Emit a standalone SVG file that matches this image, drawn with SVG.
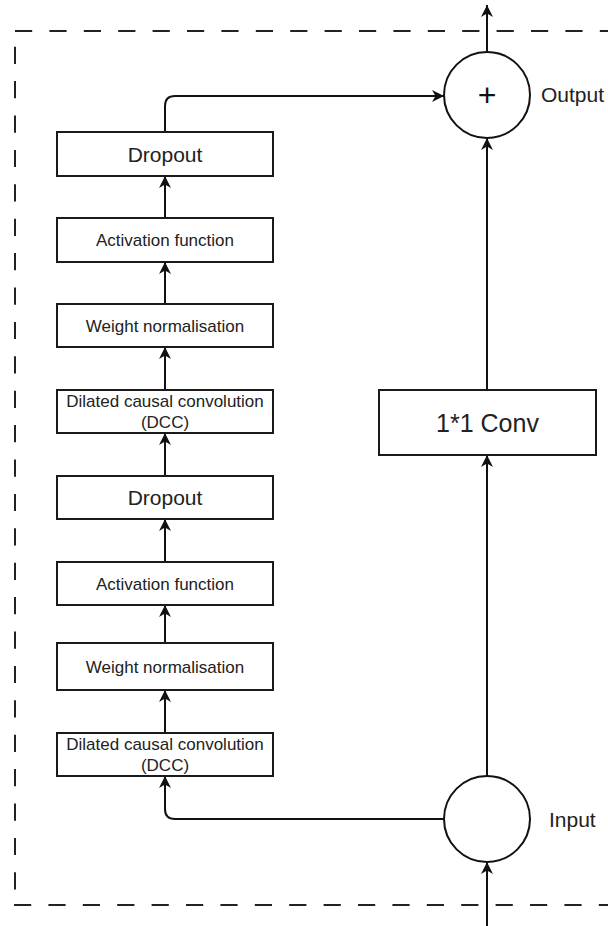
<svg xmlns="http://www.w3.org/2000/svg" width="608" height="926" viewBox="0 0 608 926">
<defs>
<marker id="arr" markerUnits="userSpaceOnUse" markerWidth="13" markerHeight="13" refX="12" refY="6" orient="auto">
<path d="M0,0 L12,6 L0,12 L3.5,6 Z" fill="#111"/>
</marker>
<style>
.box{fill:#fff;stroke:#1a1a1a;stroke-width:2}
.circ{fill:#fff;stroke:#111;stroke-width:2}
.ln{fill:none;stroke:#111;stroke-width:2}
.dash{fill:none;stroke:#222;stroke-width:2;stroke-dasharray:17.2 17.2}
.t{font-family:"Liberation Sans",Arial,sans-serif;fill:#222;text-anchor:middle}
.s17{font-size:17px}
.s21{font-size:21px}
.lbl{font-family:"Liberation Sans",Arial,sans-serif;fill:#222;font-size:21px}
</style>
</defs>
<rect width="608" height="926" fill="#fff"/>
<g id="frame">
<line class="dash" x1="15" y1="31" x2="608" y2="31"/>
<line class="dash" x1="15" y1="46.7" x2="15" y2="905"/>
<line class="dash" x1="14" y1="905" x2="608" y2="905"/>
</g>
<g id="connectors">
<path class="ln" d="M487,52 V5" marker-end="url(#arr)"/>
<path class="ln" d="M165,132 V106 Q165,96 175,96 H444" marker-end="url(#arr)"/>
<path class="ln" d="M165,218 V176" marker-end="url(#arr)"/>
<path class="ln" d="M165,304 V262" marker-end="url(#arr)"/>
<path class="ln" d="M165,390 V347" marker-end="url(#arr)"/>
<path class="ln" d="M165,476 V433" marker-end="url(#arr)"/>
<path class="ln" d="M165,562 V519" marker-end="url(#arr)"/>
<path class="ln" d="M165,643 V605" marker-end="url(#arr)"/>
<path class="ln" d="M165,733 V690" marker-end="url(#arr)"/>
<path class="ln" d="M444,819 H175 Q165,819 165,809 V776" marker-end="url(#arr)"/>
<path class="ln" d="M487,776 V455" marker-end="url(#arr)"/>
<path class="ln" d="M487,390 V138" marker-end="url(#arr)"/>
<path class="ln" d="M487,926 V862" marker-end="url(#arr)"/>
</g>
<g id="plus">
<circle class="circ" cx="487" cy="95" r="43"/>
<text class="t" x="487" y="106" style="font-size:32px;fill:#111">+</text>
<text class="lbl" x="541" y="102">Output</text>
</g>
<g id="input">
<circle class="circ" cx="487" cy="819" r="43"/>
<text class="lbl" x="549" y="827">Input</text>
</g>
<g id="conv1x1">
<rect class="box" x="379" y="390" width="217" height="65"/>
<text class="t" x="487.5" y="431.5" style="font-size:25px">1*1 Conv</text>
</g>
<g id="dropout1">
<rect class="box" x="57" y="132" width="216" height="44"/>
<text class="t s21" x="165" y="161.5">Dropout</text>
</g>
<g id="activation1">
<rect class="box" x="57" y="218" width="216" height="44"/>
<text class="t s17" x="165" y="246">Activation function</text>
</g>
<g id="weightnorm1">
<rect class="box" x="57" y="304" width="216" height="43"/>
<text class="t s17" x="165" y="331.5">Weight normalisation</text>
</g>
<g id="dcc1">
<rect class="box" x="57" y="390" width="216" height="43"/>
<text class="t s17" x="165" y="407">Dilated causal convolution</text>
<text class="t s17" x="165" y="428">(DCC)</text>
</g>
<g id="dropout2">
<rect class="box" x="57" y="476" width="216" height="43"/>
<text class="t s21" x="165" y="505">Dropout</text>
</g>
<g id="activation2">
<rect class="box" x="57" y="562" width="216" height="43"/>
<text class="t s17" x="165" y="589.5">Activation function</text>
</g>
<g id="weightnorm2">
<rect class="box" x="57" y="643" width="216" height="47"/>
<text class="t s17" x="165" y="672.5">Weight normalisation</text>
</g>
<g id="dcc2">
<rect class="box" x="57" y="733" width="216" height="43"/>
<text class="t s17" x="165" y="750">Dilated causal convolution</text>
<text class="t s17" x="165" y="771">(DCC)</text>
</g>
</svg>
